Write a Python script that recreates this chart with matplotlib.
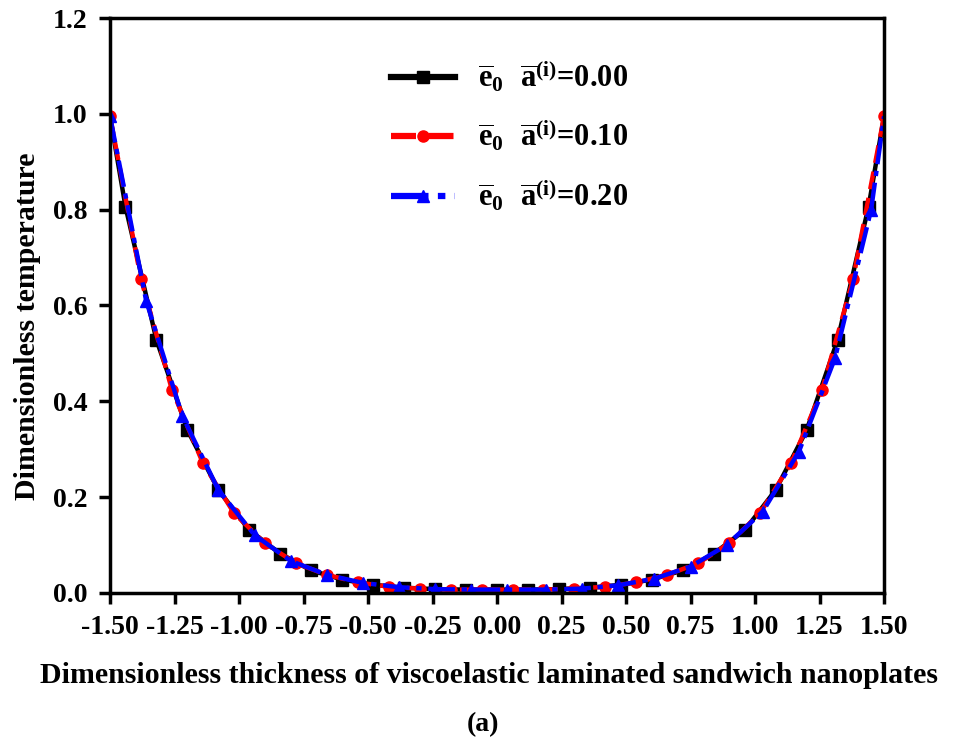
import matplotlib
matplotlib.use("Agg")
import matplotlib.pyplot as plt
from matplotlib.ticker import MultipleLocator, FormatStrFormatter

plt.rcParams['font.family'] = ['Liberation Serif', 'DejaVu Serif']
plt.rcParams['font.weight'] = 'bold'
plt.rcParams['mathtext.fontset'] = 'custom'
plt.rcParams['mathtext.rm'] = 'Liberation Serif:bold'
plt.rcParams['mathtext.it'] = 'Liberation Serif:bold'
plt.rcParams['mathtext.bf'] = 'Liberation Serif:bold'

# Series 1: e0 a(i) = 0.00 (black squares)
x_black = [-1.50, -1.44, -1.32, -1.20, -1.08, -0.96, -0.84, -0.72, -0.60, -0.48,
           -0.36, -0.24, -0.12, 0.00, 0.12, 0.24, 0.36, 0.48, 0.60, 0.72,
           0.84, 0.96, 1.08, 1.20, 1.32, 1.44, 1.50]
y_black = [0.995, 0.806, 0.528, 0.340, 0.215, 0.131, 0.082, 0.047, 0.028, 0.017,
           0.011, 0.008, 0.007, 0.007, 0.007, 0.008, 0.011, 0.017, 0.028, 0.047,
           0.082, 0.131, 0.215, 0.340, 0.528, 0.806, 0.995]

# Series 2: e0 a(i) = 0.10 (red circles)
x_red = [-1.50, -1.38, -1.26, -1.14, -1.02, -0.90, -0.78, -0.66, -0.54, -0.42,
         -0.30, -0.18, -0.06, 0.06, 0.18, 0.30, 0.42, 0.54, 0.66, 0.78,
         0.90, 1.02, 1.14, 1.26, 1.38, 1.50]
y_red = [0.995, 0.655, 0.424, 0.271, 0.167, 0.104, 0.062, 0.038, 0.022, 0.013,
         0.009, 0.007, 0.007, 0.007, 0.007, 0.009, 0.013, 0.022, 0.038, 0.062,
         0.104, 0.167, 0.271, 0.424, 0.655, 0.995]

# Series 3: e0 a(i) = 0.20 (blue triangles)
x_blue = [-1.50, -1.36, -1.22, -1.08, -0.94, -0.80, -0.66, -0.52, -0.38, -0.24,
          -0.10, 0.04, 0.19, 0.33, 0.47, 0.61, 0.75, 0.89, 1.03, 1.17,
          1.31, 1.45, 1.50]
y_blue = [0.995, 0.610, 0.370, 0.215, 0.121, 0.067, 0.038, 0.021, 0.012, 0.008,
          0.007, 0.007, 0.007, 0.009, 0.016, 0.030, 0.055, 0.100, 0.170, 0.295,
          0.490, 0.800, 0.995]

labels = [r'$\overline{\mathrm{e}}_{0}\ \ \overline{\mathrm{a}}^{(\mathrm{i})}$=0.00',
          r'$\overline{\mathrm{e}}_{0}\ \ \overline{\mathrm{a}}^{(\mathrm{i})}$=0.10',
          r'$\overline{\mathrm{e}}_{0}\ \ \overline{\mathrm{a}}^{(\mathrm{i})}$=0.20']

fig = plt.figure(figsize=(9.55, 7.47), dpi=100)
ax = fig.add_axes([0.1152, 0.2062, 0.8105, 0.7697])

lw = 3.2
ax.plot(x_black, y_black, color='black', lw=lw, ls='-', marker='s', ms=8,
        markevery=list(range(1, len(x_black) - 1)), label=labels[0])
ax.plot(x_red, y_red, color='red', lw=lw, ls=(0, (4, 2)), marker='o', ms=8,
        label=labels[1])
ax.plot(x_blue, y_blue, color='blue', lw=lw, ls=(0, (6, 1.5, 1.2, 1.5)), marker='^', ms=9,
        markevery=list(range(0, len(x_blue) - 1)), label=labels[2])

ax.set_xlim(-1.5, 1.5)
ax.set_ylim(0.0, 1.2)
ax.xaxis.set_major_locator(MultipleLocator(0.25))
ax.yaxis.set_major_locator(MultipleLocator(0.2))
ax.xaxis.set_major_formatter(FormatStrFormatter('%.2f'))
ax.yaxis.set_major_formatter(FormatStrFormatter('%.1f'))
for s in ax.spines.values():
    s.set_linewidth(2.5)
ax.tick_params(direction='out', length=8, width=2.5, labelsize=20, pad=8)

ax.set_xlabel('Dimensionless thickness of viscoelastic laminated sandwich nanoplates',
              fontsize=21.5, fontweight='bold', labelpad=16)
ax.set_ylabel('Dimensionless temperature', fontsize=21.5, fontweight='bold', labelpad=9)
ax.xaxis.label.set_x(0.49)
ax.yaxis.label.set_y(0.464)

leg = ax.legend(loc='upper left', bbox_to_anchor=(0.343, 0.955), frameon=False,
                borderpad=0, fontsize=22, handlelength=2.1, handletextpad=0.75,
                labelspacing=0.8)
for h in leg.get_lines():
    h.set_linewidth(4.5)

fig.text(0.506, 0.030, '(a)', ha='center', va='center', fontsize=20, fontweight='bold')

fig.savefig('out.png', dpi=100)
